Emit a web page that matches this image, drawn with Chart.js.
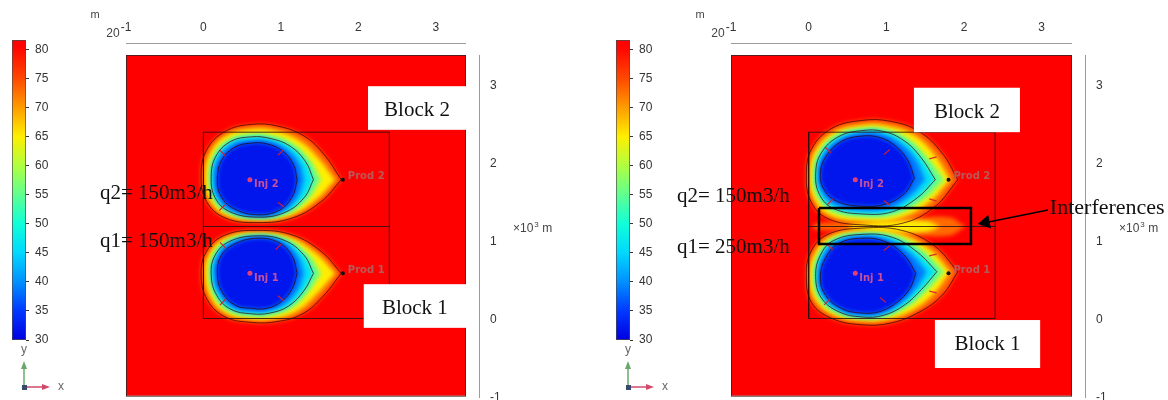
<!DOCTYPE html>
<html lang="en">
<head>
    <meta charset="UTF-8">
    <title>Temperature field around two injector/producer doublets</title>
    <script src="https://cdn.jsdelivr.net/npm/chart.js@4.4.1/dist/chart.umd.min.js"></script>
    <style>
        html, body { margin: 0; padding: 0; background: #fff; }
        body { width: 1168px; height: 400px; position: relative; overflow: hidden; }
        canvas { position: absolute; top: 0; }
    </style>
</head>
<body>
    <canvas id="barLeft" width="90" height="400" style="left:0"></canvas>
    <canvas id="fieldLeft" width="500" height="400" style="left:88px"></canvas>
    <canvas id="barRight" width="90" height="400" style="left:604px"></canvas>
    <canvas id="fieldRight" width="508" height="400" style="left:660px"></canvas>

    <script>
        // Colour range of the temperature legend (°C)
        const tMin = 30;
        const tMax = 81.6;

        // Band temperatures, outer ring first (°C)
        const levelTemps = [73, 65, 56, 46, 39, 32];
        // rings that also carry a black contour line
        const contourRings = [0, 3, 5];

        // Wells (x, y in 10^3 m)
        const wellNames = ['2', '1'];
        const injX = [0.6, 0.6];
        const injY = [1.8, 0.6];
        const prodX = [1.8, 1.8];
        const prodY = [1.8, 0.6];

        // Block outlines (10^3 m)
        const blockX = [0, 2.4];
        const blockY = [0.02, 1.2, 2.41];
        const blockNames = ['Block 2', 'Block 1'];

        // Flow rates (m3/h): q1, q2
        const leftRates = [150, 150];
        const rightRates = [250, 150];

        // Axis ranges (10^3 m)
        const xRange = [-1, 3.39];
        const yRange = [-1, 3.4];

        // Left panel: rings around Inj 2 (upper) and Inj 1 (lower)
        const leftUpperRings = [
            [[1.78,1.80],[1.56,2.12],[1.30,2.36],[0.95,2.49],[0.62,2.51],[0.28,2.42],[0.04,2.18],[-0.03,1.84],[0.04,1.52],[0.28,1.31],[0.70,1.25],[1.15,1.31],[1.52,1.52],[1.78,1.80]],
            [[1.70,1.80],[1.48,2.08],[1.24,2.30],[0.92,2.43],[0.62,2.45],[0.30,2.37],[0.09,2.15],[0.02,1.84],[0.08,1.54],[0.30,1.34],[0.70,1.28],[1.12,1.34],[1.45,1.54],[1.70,1.80]],
            [[1.52,1.80],[1.38,2.05],[1.16,2.26],[0.88,2.37],[0.62,2.39],[0.33,2.32],[0.13,2.12],[0.07,1.84],[0.12,1.56],[0.32,1.37],[0.70,1.30],[1.08,1.36],[1.36,1.56],[1.52,1.80]],
            [[1.42,1.80],[1.32,2.03],[1.12,2.23],[0.86,2.33],[0.62,2.35],[0.35,2.29],[0.16,2.10],[0.10,1.84],[0.15,1.57],[0.34,1.39],[0.70,1.32],[1.05,1.38],[1.30,1.57],[1.42,1.80]],
            [[1.30,1.80],[1.24,2.01],[1.07,2.20],[0.84,2.30],[0.62,2.31],[0.38,2.26],[0.19,2.08],[0.13,1.83],[0.18,1.58],[0.36,1.40],[0.70,1.33],[1.02,1.39],[1.22,1.58],[1.30,1.80]],
            [[1.21,1.80],[1.16,2.00],[1.02,2.17],[0.82,2.26],[0.62,2.27],[0.41,2.22],[0.24,2.06],[0.18,1.83],[0.22,1.60],[0.39,1.43],[0.70,1.35],[0.98,1.41],[1.15,1.59],[1.21,1.80]]
        ];
        const leftLowerRings = [
            [[1.78,0.60],[1.54,0.30],[1.28,0.08],[0.95,-0.02],[0.62,-0.03],[0.28,0.04],[0.05,0.26],[-0.03,0.58],[0.04,0.88],[0.28,1.09],[0.70,1.15],[1.15,1.09],[1.52,0.88],[1.78,0.60]],
            [[1.70,0.60],[1.46,0.33],[1.22,0.12],[0.92,0.02],[0.62,0.01],[0.30,0.08],[0.10,0.28],[0.02,0.58],[0.08,0.86],[0.30,1.06],[0.70,1.12],[1.12,1.06],[1.45,0.86],[1.70,0.60]],
            [[1.52,0.60],[1.36,0.36],[1.14,0.15],[0.88,0.06],[0.62,0.05],[0.33,0.11],[0.14,0.30],[0.07,0.58],[0.12,0.84],[0.32,1.03],[0.70,1.10],[1.08,1.04],[1.36,0.84],[1.52,0.60]],
            [[1.42,0.60],[1.30,0.38],[1.10,0.18],[0.86,0.09],[0.62,0.08],[0.35,0.14],[0.17,0.32],[0.10,0.58],[0.15,0.83],[0.34,1.01],[0.70,1.08],[1.05,1.02],[1.30,0.83],[1.42,0.60]],
            [[1.30,0.60],[1.23,0.40],[1.06,0.21],[0.84,0.12],[0.62,0.11],[0.38,0.16],[0.20,0.34],[0.13,0.58],[0.18,0.82],[0.36,1.00],[0.70,1.07],[1.02,1.01],[1.22,0.82],[1.30,0.60]],
            [[1.21,0.60],[1.15,0.41],[1.01,0.24],[0.82,0.15],[0.62,0.15],[0.41,0.19],[0.24,0.36],[0.18,0.58],[0.22,0.81],[0.39,0.97],[0.70,1.05],[0.98,0.99],[1.15,0.81],[1.21,0.60]]
        ];

        // Right panel: larger plumes pushed apart, with a warm tongue between them
        const rightUpperRings = [
            [[1.92,1.80],[1.72,2.14],[1.42,2.42],[1.05,2.55],[0.68,2.56],[0.30,2.46],[0.04,2.20],[-0.03,1.86],[0.03,1.52],[0.25,1.30],[0.70,1.22],[1.20,1.24],[1.62,1.45],[1.92,1.80]],
            [[1.82,1.80],[1.62,2.12],[1.36,2.37],[1.02,2.49],[0.68,2.50],[0.33,2.41],[0.09,2.18],[0.01,1.86],[0.07,1.55],[0.28,1.34],[0.70,1.27],[1.15,1.30],[1.54,1.50],[1.82,1.80]],
            [[1.75,1.80],[1.52,2.10],[1.28,2.33],[0.98,2.45],[0.68,2.46],[0.36,2.38],[0.13,2.16],[0.06,1.87],[0.11,1.58],[0.30,1.39],[0.70,1.32],[1.12,1.35],[1.48,1.54],[1.75,1.80]],
            [[1.63,1.80],[1.45,2.08],[1.23,2.30],[0.96,2.42],[0.68,2.43],[0.38,2.35],[0.16,2.14],[0.09,1.88],[0.14,1.61],[0.32,1.43],[0.70,1.36],[1.08,1.39],[1.40,1.57],[1.63,1.80]],
            [[1.50,1.80],[1.38,2.06],[1.18,2.27],[0.94,2.39],[0.68,2.40],[0.40,2.32],[0.19,2.12],[0.12,1.88],[0.17,1.64],[0.35,1.47],[0.70,1.40],[1.04,1.43],[1.32,1.60],[1.50,1.80]],
            [[1.36,1.82],[1.28,2.04],[1.12,2.23],[0.92,2.34],[0.68,2.36],[0.42,2.29],[0.23,2.11],[0.15,1.89],[0.20,1.67],[0.37,1.52],[0.70,1.46],[1.00,1.49],[1.24,1.63],[1.36,1.82]]
        ];
        const rightLowerRings = [
            [[1.92,0.62],[1.62,0.95],[1.20,1.15],[0.70,1.18],[0.25,1.10],[0.03,0.88],[-0.03,0.56],[0.04,0.22],[0.30,0.02],[0.68,-0.06],[1.05,-0.04],[1.42,0.10],[1.72,0.32],[1.92,0.62]],
            [[1.82,0.62],[1.54,0.92],[1.15,1.11],[0.70,1.15],[0.28,1.07],[0.08,0.86],[0.01,0.56],[0.09,0.25],[0.33,0.06],[0.68,-0.01],[1.02,0.01],[1.36,0.14],[1.62,0.35],[1.82,0.62]],
            [[1.75,0.62],[1.48,0.89],[1.12,1.08],[0.70,1.12],[0.30,1.04],[0.12,0.84],[0.06,0.56],[0.13,0.27],[0.36,0.09],[0.68,0.02],[0.98,0.04],[1.28,0.17],[1.52,0.37],[1.75,0.62]],
            [[1.65,0.62],[1.40,0.87],[1.08,1.06],[0.70,1.10],[0.32,1.02],[0.15,0.83],[0.09,0.56],[0.16,0.29],[0.38,0.11],[0.68,0.04],[0.96,0.06],[1.23,0.19],[1.45,0.39],[1.65,0.62]],
            [[1.52,0.62],[1.32,0.85],[1.04,1.03],[0.70,1.08],[0.35,1.00],[0.18,0.82],[0.12,0.56],[0.19,0.31],[0.40,0.13],[0.68,0.06],[0.94,0.08],[1.18,0.21],[1.38,0.40],[1.52,0.62]],
            [[1.38,0.60],[1.24,0.82],[1.00,1.00],[0.70,1.05],[0.38,0.98],[0.22,0.80],[0.15,0.56],[0.21,0.33],[0.42,0.15],[0.68,0.09],[0.92,0.11],[1.14,0.23],[1.30,0.40],[1.38,0.60]]
        ];
        const rightGapRings = [
            [[2.02,1.20],[1.80,1.32],[1.30,1.30],[0.70,1.26],[0.10,1.24],[0.05,1.20],[0.10,1.16],[0.70,1.14],[1.30,1.10],[1.80,1.08],[2.02,1.20]],
            [[1.70,1.20],[1.50,1.27],[1.10,1.27],[0.60,1.23],[0.50,1.20],[0.60,1.17],[1.10,1.13],[1.50,1.13],[1.70,1.20]]
        ];

        // Short velocity arrows: [x0, y0, x1, y1]
        const leftArrows = [
            [0.286, 2.105, 0.214, 2.175], [0.962, 2.117, 1.038, 2.183],
            [0.961, 1.511, 1.039, 1.449], [0.276, 1.476, 0.204, 1.404],
            [0.286, 0.924, 0.214, 0.996], [0.933, 0.906, 1.007, 0.974],
            [0.961, 0.311, 1.039, 0.249], [0.285, 0.267, 0.215, 0.193]
        ];
        const rightArrows = [
            [0.285, 2.146, 0.213, 2.216], [0.970, 2.123, 1.046, 2.189],
            [0.969, 1.532, 1.047, 1.470], [0.310, 1.550, 0.238, 1.478],
            [1.552, 2.067, 1.648, 2.093], [1.552, 1.553, 1.648, 1.527],
            [0.272, 0.267, 0.200, 0.195], [0.920, 0.289, 0.994, 0.225],
            [0.969, 0.893, 1.047, 0.955], [0.310, 0.902, 0.238, 0.972],
            [1.552, 0.822, 1.648, 0.846], [1.552, 0.372, 1.648, 0.348]
        ];

        // Rainbow colour map used by the legend and the fills
        const cmapTemps = [30, 35, 40, 45, 50, 55, 60, 65, 70, 75, 80, 81.6];
        const cmapColors = ['#0000e0', '#0038ff', '#0090ff', '#00d8ff', '#10ffd8', '#60ff90',
                            '#b0ff40', '#ffef00', '#ff9c00', '#ff4800', '#ff0800', '#ff0000'];

        function hexToRgb(h) {
            const n = parseInt(h.slice(1), 16);
            return [n >> 16, (n >> 8) & 255, n & 255];
        }

        function tempColor(t) {
            for (let i = 1; i < cmapTemps.length; i++) {
                if (t <= cmapTemps[i]) {
                    const f = Math.max(0, (t - cmapTemps[i - 1]) / (cmapTemps[i] - cmapTemps[i - 1]));
                    const a = hexToRgb(cmapColors[i - 1]);
                    const b = hexToRgb(cmapColors[i]);
                    return 'rgb(' + a.map((v, j) => Math.round(v + (b[j] - v) * f)).join(',') + ')';
                }
            }
            return cmapColors[cmapColors.length - 1];
        }

        const tickFont = { family: 'Liberation Sans', size: 12 };

        // small x/y triad under the colour legend
        const triadPlugin = {
            id: 'triad',
            afterDraw(chart) {
                const { ctx, chartArea: a } = chart;
                const ox = a.left + 12, oy = a.bottom + 47;
                ctx.save();
                ctx.lineWidth = 1.5;
                ctx.strokeStyle = ctx.fillStyle = '#6aa86a';
                ctx.beginPath(); ctx.moveTo(ox, oy); ctx.lineTo(ox, oy - 20); ctx.stroke();
                ctx.beginPath(); ctx.moveTo(ox, oy - 26); ctx.lineTo(ox - 3, oy - 18); ctx.lineTo(ox + 3, oy - 18); ctx.fill();
                ctx.strokeStyle = ctx.fillStyle = '#d24a6a';
                ctx.beginPath(); ctx.moveTo(ox, oy); ctx.lineTo(ox + 20, oy); ctx.stroke();
                ctx.beginPath(); ctx.moveTo(ox + 26, oy); ctx.lineTo(ox + 18, oy - 3); ctx.lineTo(ox + 18, oy + 3); ctx.fill();
                ctx.fillStyle = '#3a4a6a';
                ctx.fillRect(ox - 2, oy - 2, 5, 5);
                ctx.fillStyle = '#666';
                ctx.font = '12px "Liberation Sans"';
                ctx.textAlign = 'center';
                ctx.textBaseline = 'middle';
                ctx.fillText('y', ox, oy - 37);
                ctx.fillText('x', ox + 37, oy);
                ctx.restore();
            }
        };

        function colorbarChart(id) {
            return new Chart(document.getElementById(id), {
                type: 'bar',
                data: {
                    labels: [''],
                    datasets: [{
                        data: [[tMin, tMax]],
                        backgroundColor(context) {
                            const chart = context.chart;
                            if (!chart.chartArea) return tempColor(55);
                            const y = chart.scales.y;
                            const g = chart.ctx.createLinearGradient(0, y.getPixelForValue(tMin), 0, y.getPixelForValue(tMax));
                            cmapTemps.forEach((t, i) => g.addColorStop((t - tMin) / (tMax - tMin), cmapColors[i]));
                            return g;
                        },
                        borderColor: '#4a4a4a',
                        borderWidth: 1,
                        borderSkipped: false,
                        barPercentage: 1,
                        categoryPercentage: 1
                    }]
                },
                options: {
                    responsive: false,
                    animation: false,
                    events: [],
                    layout: { autoPadding: false, padding: { left: 12, top: 40, bottom: 60, right: 0 } },
                    plugins: { legend: { display: false }, tooltip: { enabled: false } },
                    scales: {
                        x: { display: false },
                        y: {
                            position: 'right',
                            min: tMin,
                            max: tMax,
                            afterFit(scale) { scale.width = 64; },
                            grid: { drawOnChartArea: false, tickLength: 3, color: '#333' },
                            border: { display: false },
                            ticks: { stepSize: 5, includeBounds: false, padding: 6, color: '#333', font: tickFont }
                        }
                    }
                },
                plugins: [triadPlugin]
            });
        }

        // red background, blurred temperature bands and all text on the field plot
        const fieldPlugin = {
            id: 'field',
            beforeDatasetsDraw(chart) {
                const { ctx, chartArea: a, scales: { y } } = chart;
                ctx.save();
                ctx.fillStyle = tempColor(tMax);
                ctx.fillRect(a.left, a.top, a.right - a.left, y.getPixelForValue(-0.97) - a.top);
                ctx.restore();
            },
            beforeDatasetDraw(chart, args) {
                const ds = chart.data.datasets[args.index];
                if (ds.ringTemp === undefined) return;
                const { ctx, chartArea: a } = chart;
                const el = args.meta.dataset;
                ctx.save();
                ctx.beginPath();
                ctx.rect(a.left, a.top, a.right - a.left, a.bottom - a.top);
                ctx.clip();
                ctx.filter = 'blur(2px)';
                ctx.fillStyle = tempColor(ds.ringTemp);
                ctx.beginPath();
                el.updateControlPoints(a, 'x');
                el.path(ctx);
                ctx.closePath();
                ctx.fill();
                ctx.restore();
                return false;
            },
            afterDraw(chart, args, opts) {
                const { ctx, chartArea: a, scales: { x, y } } = chart;
                const px = v => x.getPixelForValue(v);
                const py = v => y.getPixelForValue(v);
                ctx.save();

                // frame of the plot and the offset axis lines
                ctx.strokeStyle = 'rgba(70,30,30,0.9)';
                ctx.lineWidth = 1;
                ctx.strokeRect(a.left + 0.5, a.top + 0.5, a.right - a.left - 1, py(-0.97) - a.top);
                ctx.strokeStyle = '#9a9a9a';
                ctx.beginPath();
                ctx.moveTo(a.left, a.top - 11.5); ctx.lineTo(a.right, a.top - 11.5);
                ctx.moveTo(a.right + 13.5, a.top); ctx.lineTo(a.right + 13.5, a.bottom);
                ctx.stroke();

                // units
                ctx.fillStyle = '#444';
                ctx.textBaseline = 'middle';
                ctx.textAlign = 'center';
                ctx.font = '11px "Liberation Sans"';
                ctx.fillText('m', a.left - 31, 15);
                ctx.font = '12px "Liberation Sans"';
                ctx.fillText('20', a.left - 13, 34);
                ctx.textAlign = 'left';
                let ux = a.right + 47;
                ctx.fillText('×10', ux, 229);
                ux += ctx.measureText('×10').width;
                ctx.font = '8px "Liberation Sans"';
                ctx.fillText('3', ux + 1, 225);
                ux += ctx.measureText('3').width + 1;
                ctx.font = '12px "Liberation Sans"';
                ctx.fillText(' m', ux, 229);

                // well labels
                ctx.font = 'bold 10px "DejaVu Sans"';
                injX.forEach((v, i) => {
                    ctx.fillStyle = '#c8509a';
                    ctx.fillText('Inj ' + wellNames[i], px(v) + 4, py(injY[i]) + 5);
                });
                prodX.forEach((v, i) => {
                    ctx.fillStyle = '#b85a5a';
                    ctx.fillText('Prod ' + wellNames[i], px(v) + 5, py(prodY[i]) - 3);
                });

                // block labels in white boxes
                ctx.font = '21px "Liberation Serif"';
                ctx.textBaseline = 'alphabetic';
                opts.boxes.forEach((b, i) => {
                    const x0 = px(b.x0), x1 = px(b.x1), y0 = py(b.y0), y1 = py(b.y1);
                    ctx.fillStyle = '#fff';
                    ctx.fillRect(x0, y0, x1 - x0, y1 - y0);
                    ctx.fillStyle = '#111';
                    ctx.textAlign = 'center';
                    ctx.fillText(blockNames[i], (x0 + x1) / 2, y0 + 30);
                });

                // flow rates
                ctx.textAlign = 'left';
                opts.rates.forEach((q, i) => {
                    const p = opts.ratePos[i];
                    ctx.fillText('q' + (i + 1) + '= ' + q + 'm3/h', px(p.x), py(p.y));
                });

                if (opts.note) {
                    ctx.font = '22px "Liberation Serif"';
                    ctx.fillText(opts.note.text, px(opts.note.x), py(opts.note.y));
                }
                ctx.restore();
            }
        };

        function fieldChart(id, p) {
            const datasets = [];
            const ringSet = (ring, k) => ({
                data: ring, ringTemp: levelTemps[k], order: 200 - k,
                tension: 0.4, pointRadius: 0, borderColor: 'rgba(0,0,0,0)', fill: false
            });
            p.blobs.forEach(rings => rings.forEach((ring, k) => datasets.push(ringSet(ring, k))));
            if (p.gap) p.gap.forEach((ring, k) => datasets.push(ringSet(ring, k)));

            // black contour lines
            p.blobs.forEach(rings => contourRings.forEach(k => datasets.push({
                data: rings[k], order: 100, tension: 0.4, pointRadius: 0,
                borderColor: 'rgba(45,0,0,0.7)', borderWidth: 1, fill: false
            })));

            // velocity arrows
            p.arrows.forEach(s => datasets.push({
                data: [[s[0], s[1]], [s[2], s[3]]], order: 95, pointRadius: 0,
                borderColor: 'rgba(215,30,50,0.9)', borderWidth: 1.3, fill: false
            }));

            // block outlines
            datasets.push({
                data: [[blockX[0], blockY[0]], [blockX[1], blockY[0]], [blockX[1], blockY[2]],
                       [blockX[0], blockY[2]], [blockX[0], blockY[0]]],
                order: 90, borderColor: 'rgba(40,15,15,0.85)', borderWidth: 1, pointRadius: 0, fill: false
            });
            datasets.push({
                data: [[blockX[0], blockY[1]], [blockX[1], blockY[1]]],
                order: 90, borderColor: 'rgba(40,15,15,0.85)', borderWidth: 1, pointRadius: 0, fill: false
            });

            // interference frame and arrow
            if (p.frame) {
                const f = p.frame;
                datasets.push({
                    data: [[f.x0, f.y0], [f.x1, f.y0], [f.x1, f.y1], [f.x0, f.y1], [f.x0, f.y0]],
                    order: 80, borderColor: '#000', borderWidth: 2.5, pointRadius: 0, fill: false
                });
                datasets.push({
                    data: [p.arrow.from, p.arrow.to],
                    order: 80, borderColor: '#000', borderWidth: 1.5, pointRadius: 0, fill: false
                });
                datasets.push({
                    data: [p.arrow.head], showLine: false, order: 80,
                    pointStyle: 'triangle', pointRotation: p.arrow.angle, pointRadius: 8,
                    pointBackgroundColor: '#000', pointBorderWidth: 0
                });
            }

            // wells
            datasets.push({
                data: injX.map((v, i) => [v, injY[i]]), showLine: false, order: 10,
                pointRadius: 2.5, pointBackgroundColor: '#e0407a', pointBorderWidth: 0
            });
            datasets.push({
                data: prodX.map((v, i) => [v, prodY[i]]), showLine: false, order: 10,
                pointRadius: 2, pointBackgroundColor: '#111', pointBorderWidth: 0
            });

            return new Chart(document.getElementById(id), {
                type: 'line',
                data: { datasets },
                options: {
                    responsive: false,
                    animation: false,
                    events: [],
                    layout: { autoPadding: false, padding: { left: p.padLeft, top: 0, right: 0, bottom: 2 } },
                    plugins: {
                        legend: { display: false },
                        tooltip: { enabled: false },
                        field: { boxes: p.boxes, rates: p.rates, ratePos: p.ratePos, note: p.note }
                    },
                    scales: {
                        x: {
                            type: 'linear', position: 'top', min: xRange[0], max: xRange[1],
                            afterFit(scale) { scale.height = 55; scale.paddingLeft = 0; scale.paddingRight = 0; },
                            grid: { display: false, drawTicks: false }, border: { display: false },
                            ticks: { stepSize: 1, includeBounds: false, padding: 20, color: '#333', font: tickFont }
                        },
                        y: {
                            type: 'linear', position: 'right', min: yRange[0], max: yRange[1],
                            afterFit(scale) { scale.width = p.axisWidth; scale.paddingTop = 0; scale.paddingBottom = 0; },
                            grid: { display: false, drawTicks: false }, border: { display: false },
                            ticks: { stepSize: 1, includeBounds: false, padding: 24, color: '#333', font: tickFont }
                        }
                    }
                },
                plugins: [fieldPlugin]
            });
        }

        document.addEventListener('DOMContentLoaded', () => {
            colorbarChart('barLeft');
            colorbarChart('barRight');

            fieldChart('fieldLeft', {
                padLeft: 38,
                axisWidth: 122,
                blobs: [leftUpperRings, leftLowerRings],
                arrows: leftArrows,
                rates: leftRates,
                ratePos: [{ x: -1.336, y: 0.937 }, { x: -1.336, y: 1.553 }],
                boxes: [
                    { x0: 2.125, x1: 3.39, y0: 3.0, y1: 2.44 },
                    { x0: 2.07, x1: 3.39, y0: 0.46, y1: -0.10 }
                ]
            });

            fieldChart('fieldRight', {
                padLeft: 71,
                axisWidth: 96,
                blobs: [rightUpperRings, rightLowerRings],
                gap: rightGapRings,
                arrows: rightArrows,
                rates: rightRates,
                ratePos: [{ x: -1.695, y: 0.86 }, { x: -1.695, y: 1.514 }],
                boxes: [
                    { x0: 1.355, x1: 2.72, y0: 2.98, y1: 2.41 },
                    { x0: 1.625, x1: 2.98, y0: 0.0, y1: -0.615 }
                ],
                frame: { x0: 0.133, x1: 2.089, y0: 1.437, y1: 0.975 },
                arrow: { from: [3.08, 1.412], to: [2.30, 1.255], head: [2.279, 1.252], angle: 258.7 },
                note: { text: 'Interferences', x: 3.105, y: 1.36 }
            });
        });
    </script>
</body>
</html>
